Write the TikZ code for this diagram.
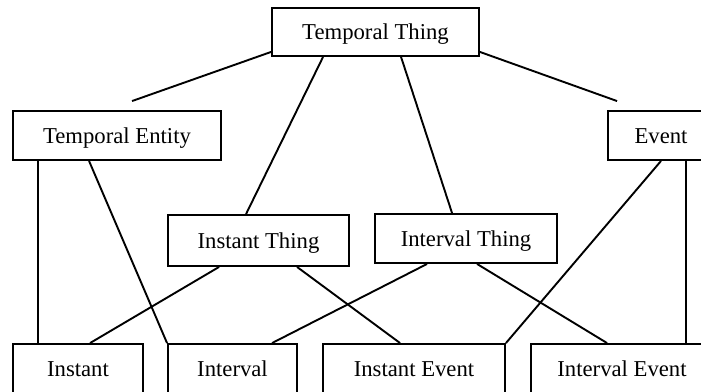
\documentclass[tikz,border=0pt]{standalone}
\usepackage{fontspec}
\setmainfont{Liberation Serif}
\begin{document}
\begin{tikzpicture}[x=1pt,y=-1pt,
  box/.style={draw,line width=1.9pt,inner sep=0pt,minimum height=49pt,
    text height=15pt,text depth=0pt,font=\fontsize{22.7pt}{26pt}\selectfont},
  link/.style={line width=1.9pt}]
\useasboundingbox (0,0) rectangle (701,391);
\clip (0,0) rectangle (701,391);
% top level
\node[box,minimum width=207pt,minimum height=48pt] (tt) at (375.5,32) {Temporal Thing};
% second level
\node[box,minimum width=208pt] (te) at (117,135.5) {Temporal Entity};
\node[box,minimum width=106pt] (ev) at (661,135.5) {Event};
% third level
\node[box,minimum width=181pt,minimum height=51pt] (it) at (258.5,240.5) {Instant Thing};
\node[box,minimum width=182pt] (ivt) at (466,238.5) {Interval Thing};
% bottom row
\node[box,minimum width=130pt,minimum height=50pt] (inst) at (78,369) {Instant};
\node[box,minimum width=129pt,minimum height=50pt] (intv) at (232.5,369) {Interval};
\node[box,minimum width=182pt,minimum height=50pt] (ie) at (414,369) {Instant Event};
\node[box,minimum width=182pt,minimum height=50pt] (iv) at (622,369) {Interval Event};
% connectors
\draw[link] ([yshift=5pt]tt.south west) -- ([xshift=120pt,yshift=9pt]te.north west);
\draw[link] ([xshift=52pt]tt.south west) -- ([xshift=79pt]it.north west);
\draw[link] ([xshift=130pt]tt.south west) -- ([xshift=78pt]ivt.north west);
\draw[link] ([yshift=5pt]tt.south east) -- ([xshift=10pt,yshift=9pt]ev.north west);
\draw[link] ([xshift=26pt]te.south west) -- ([xshift=26pt]inst.north west);
\draw[link] ([xshift=77pt]te.south west) -- (intv.north west);
\draw[link] ([xshift=52pt]it.south west) -- ([xshift=78pt]inst.north west);
\draw[link] ([xshift=130pt]it.south west) -- ([xshift=78pt]ie.north west);
\draw[link] ([xshift=53pt]ivt.south west) -- ([xshift=105pt]intv.north west);
\draw[link] ([xshift=103pt]ivt.south west) -- ([xshift=77pt]iv.north west);
\draw[link] (ev.south) -- (ie.north east);
\draw[link] ([xshift=79pt]ev.south west) -- ([xshift=156pt]iv.north west);
\end{tikzpicture}
\end{document}
